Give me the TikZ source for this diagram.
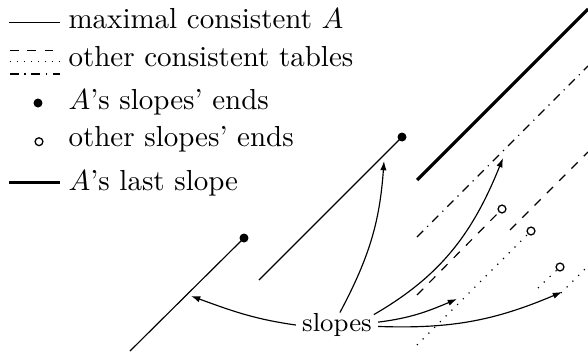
\documentclass[tikz,border=0pt]{standalone}
\usetikzlibrary{arrows.meta}
\begin{document}
\begin{tikzpicture}[x=0.345pt,y=-0.345pt,
  thin line/.style={line width=0.4pt},
  last/.style={line width=1.1pt},
  dsh/.style={line width=0.4pt,dash pattern=on 3pt off 3pt},
  dtt/.style={line width=0.4pt,dash pattern=on 0.4pt off 2.4pt},
  ldtt/.style={line width=0.4pt,dash pattern=on 0.4pt off 2pt},
  dshdt/.style={line width=0.4pt,dash pattern=on 3pt off 2pt on 0.4pt off 2pt},
  fdot/.style={circle,fill=black,inner sep=0pt,minimum size=3.1pt},
  odot/.style={circle,draw=black,fill=white,line width=0.45pt,inner sep=0pt,minimum size=2.7pt},
  lab/.style={anchor=base west,inner sep=0pt},
  arr/.style={line width=0.4pt,-{Latex[length=3.2pt,width=2.2pt]}}
]
\useasboundingbox (0,0) rectangle (588,355);
% legend
\coordinate (l1a) at (9,22.7); \coordinate (l1b) at (60,22.7);
\draw[thin line] (l1a) -- (l1b);
\node[lab] (t1) at (68,28.3) {maximal consistent $A$};
\coordinate (l2a) at (10,50.7); \coordinate (l2b) at (60,50.7);
\draw[dsh] (l2a) -- (l2b);
\coordinate (l3a) at (10,61.7); \coordinate (l3b) at (60,61.7);
\draw[ldtt] (l3a) -- (l3b);
\coordinate (l4a) at (10,74); \coordinate (l4b) at (60,74);
\draw[dshdt] (l4a) -- (l4b);
\node[lab] (t2) at (68,66.7) {other consistent tables};
\node[fdot] (d1) at (38,103) {};
\node[lab] (t3) at (68,109.5) {$A$'s slopes' ends};
\node[odot] (d2) at (39,141.7) {};
\node[lab] (t4) at (68,146.7) {other slopes' ends};
\coordinate (l5a) at (9,182.7); \coordinate (l5b) at (60,182.7);
\draw[last] (l5a) -- (l5b);
\node[lab] (t5) at (68,190) {$A$'s last slope};

% maximal consistent A
\coordinate (s1a) at (130,351);
\node[fdot] (e1) at (244,238) {};
\draw[thin line] (s1a) -- (e1.center);
\coordinate (s2a) at (259,280);
\node[fdot] (e2) at (402,137) {};
\draw[thin line] (s2a) -- (e2.center);
\coordinate (s3a) at (417,180); \coordinate (s3b) at (588,9);
\draw[last] (s3a) -- (s3b);

% dash-dot table
\coordinate (ddA) at (417,237); \coordinate (ddB) at (588,66);
\draw[dshdt] (ddA) -- (ddB);

% dashed table
\coordinate (dsA) at (417,295);
\node[odot] (c1) at (502,209) {};
\draw[dsh] (dsA) -- (c1);
\coordinate (dsC) at (510,230); \coordinate (dsD) at (588,152);
\draw[dsh] (dsC) -- (dsD);

% dotted table
\coordinate (dtA) at (417,345);
\node[odot] (c2) at (531,231) {};
\draw[dtt] (dtA) -- (c2);
\coordinate (dtC) at (538,288);
\node[odot] (c3) at (560,267) {};
\draw[dtt] (dtC) -- (c3);
\coordinate (dtE) at (561,293); \coordinate (dtF) at (588,266);
\draw[dtt] (dtE) -- (dtF);

% label and arrows
\node[inner sep=2pt,font=\small] (slopes) at (337,325) {slopes};
\coordinate (tA) at (191,296);
\coordinate (tB) at (384,161);
\coordinate (tC) at (503,158);
\coordinate (tD) at (457,299);
\coordinate (tE) at (562,292);
\draw[arr] (slopes.west) to[out=172,in=-20] (tA);
\draw[arr] ([xshift=1pt,yshift=-1.9pt]slopes.north) to[out=62,in=-94] (tB);
\draw[arr] ([xshift=-1.5pt,yshift=-2.6pt]slopes.north east) to[out=30,in=-112] (tC);
\draw[arr] ([yshift=1pt]slopes.east) to[out=7,in=203] (tD);
\draw[arr] ([yshift=-0.5pt]slopes.east) to[out=-2,in=203] (tE);
\end{tikzpicture}
\end{document}
